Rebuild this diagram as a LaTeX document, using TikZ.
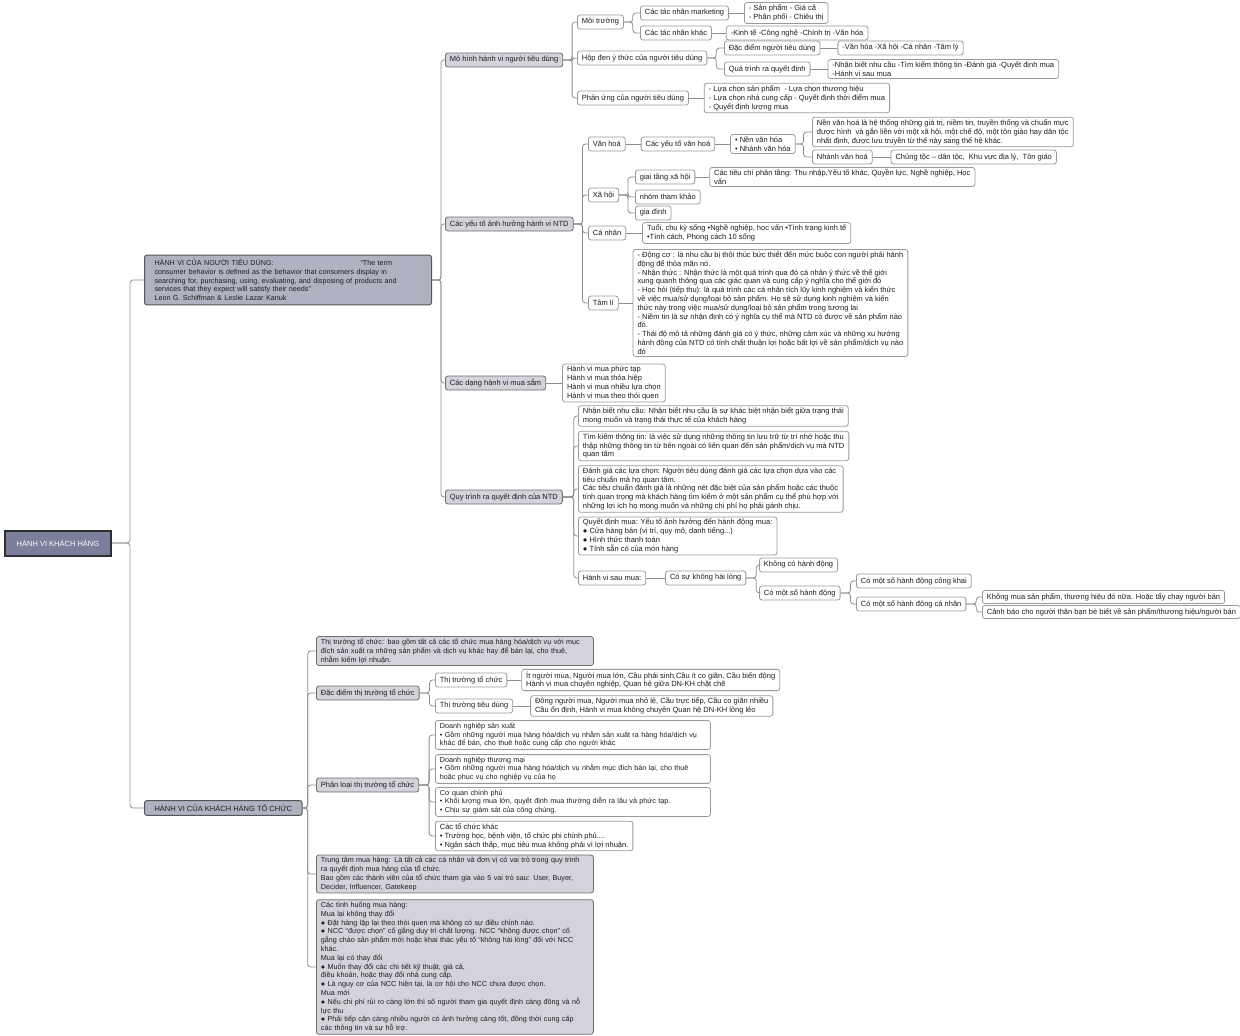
\documentclass[tikz,border=0pt]{standalone}
\usepackage{fontspec}
\setmainfont{Liberation Sans}
\usetikzlibrary{positioning}

\definecolor{linkgray}{HTML}{8E8E8E}
\definecolor{boxline}{HTML}{9A9A9A}
\definecolor{topicfill}{HTML}{D2D3DB}
\definecolor{topicline}{HTML}{6E6E6E}
\definecolor{mainfill}{HTML}{B0B2C2}
\definecolor{mainline}{HTML}{555555}
\definecolor{rootfill}{HTML}{7B7F9B}
\definecolor{rootline}{HTML}{2E2E2E}
\definecolor{ink}{HTML}{1E1E1E}

\begin{document}
\begin{tikzpicture}[
  x=1pt, y=-1pt,
  font=\fontsize{7.5pt}{8.8pt}\selectfont, text=ink,
  leaf/.style={draw=boxline, line width=0.8pt, rounded corners=2.5pt, fill=white,
    align=left, anchor=west, inner xsep=4.5pt, inner ysep=2.2pt, minimum height=14pt},
  topic/.style={leaf, fill=topicfill, draw=topicline},
  mainbox/.style={leaf, fill=mainfill, draw=mainline, line width=1pt, inner xsep=10pt, inner ysep=4pt},
  rootbox/.style={draw=rootline, line width=2pt, fill=rootfill, text=white, anchor=west,
    minimum width=106pt, minimum height=25pt},
  fixwidth/.style={text width=#1, font=\fontsize{7.2pt}{8.8pt}\selectfont},
  link/.style={draw=linkgray, line width=0.8pt, rounded corners=3pt},
  branch/.style={link, to path={(\tikztostart.east) -- ++(#1,0) |- (\tikztotarget.west)}},
  branch/.default=9
]
\useasboundingbox (0,0) rectangle (1240,1036);

% root and the two halves
\node[rootbox] (root) at (4,543) {HÀNH VI KHÁCH HÀNG};
\node[mainbox, fixwidth=267pt] (ntd) at (144,280)
  {\makebox[206pt][l]{HÀNH VI CỦA NGƯỜI TIÊU DÙNG:}“The term\\
   consumer behavior is defined as the behavior that consumers display in\\
   searching for, purchasing, using, evaluating, and disposing of products and\\
   services that they expect will satisfy their needs”\\
   Leon G. Schiffman \& Leslie Lazar Kanuk};
\node[mainbox] (tc) at (144,808) {HÀNH VI CỦA KHÁCH HÀNG TỔ CHỨC};
\draw[branch=18] (root) to (ntd);
\draw[branch=18] (root) to (tc);

% ---- nguoi tieu dung
\node[topic] (mh) at (445,60) {Mô hình hành vi người tiêu dùng};
\node[topic] (yt) at (445,224) {Các yếu tố ảnh hưởng hành vi NTD};
\node[topic] (dang) at (445,383) {Các dạng hành vi mua sắm};
\node[topic] (qt) at (445,497) {Quy trình ra quyết định của NTD};
\foreach \c in {mh,yt,dang,qt} \draw[branch] (ntd) to (\c);

% mo hinh
\node[leaf] (mt) at (577,22) {Môi trường};
\node[leaf] (hd) at (577,58) {Hộp đen ý thức của người tiêu dùng};
\node[leaf] (pu) at (577,98) {Phản ứng của người tiêu dùng};
\foreach \c in {mt,hd,pu} \draw[branch] (mh) to (\c);

\node[leaf] (tnmk) at (640,13) {Các tác nhân marketing};
\node[leaf] (tnk) at (640,33) {Các tác nhân khác};
\draw[branch] (mt) to (tnmk);
\draw[branch] (mt) to (tnk);
\node[leaf, right=15pt of tnmk] (spgc) {- Sản phẩm - Giá cả\\- Phân phối - Chiêu thị};
\node[leaf, right=14pt of tnk] (ktvh) {-Kinh tế -Công nghệ -Chính trị -Văn hóa};
\draw[link] (tnmk) -- (spgc);
\draw[link] (tnk) -- (ktvh);

\node[leaf] (dd) at (724,48) {Đặc điểm người tiêu dùng};
\node[leaf] (qtr) at (724,69) {Quá trình ra quyết định};
\draw[branch] (hd) to (dd);
\draw[branch] (hd) to (qtr);
\node[leaf, right=17pt of dd] (vhxh) {-Văn hóa -Xã hội -Cá nhân -Tâm lý};
\node[leaf, right=17pt of qtr] (nbnc)
  {-Nhận biết nhu cầu -Tìm kiếm thông tin -Đánh giá -Quyết định mua\\-Hành vi sau mua};
\draw[link] (dd) -- (vhxh);
\draw[link] (qtr) -- (nbnc);

\node[leaf, right=15pt of pu] (lc)
  {- Lựa chọn sản phẩm\ \ - Lựa chọn thương hiệu\\
   - Lựa chọn nhà cung cấp - Quyết định thời điểm mua\\
   - Quyết định lượng mua};
\draw[link] (pu) -- (lc);

% cac yeu to
\node[leaf] (vh) at (588,144) {Văn hoá};
\node[leaf] (xh) at (588,195) {Xã hội};
\node[leaf] (cn) at (588,233) {Cá nhân};
\node[leaf] (tl) at (588,303) {Tâm lí};
\foreach \c in {vh,xh,cn,tl} \draw[branch] (yt) to (\c);

\node[leaf, right=15pt of vh] (ytvh) {Các yếu tố văn hoá};
\node[leaf, right=15pt of ytvh] (nvh) {• Nền văn hóa\\• Nhánh văn hóa};
\draw[link] (vh) -- (ytvh);
\draw[link] (ytvh) -- (nvh);
\node[leaf] (nvhdef) at (812,132)
  {Nền văn hoá là hệ thống những giá trị, niềm tin, truyền thống và chuẩn mực\\
   được hình\ \ và gắn liền với một xã hội, một chế độ, một tôn giáo hay dân tộc\\
   nhất định, được lưu truyền từ thế này sang thế hệ khác.};
\node[leaf] (nhvh) at (812,157) {Nhánh văn hoá};
\draw[branch=8] (nvh) to (nvhdef);
\draw[branch=8] (nvh) to (nhvh);
\node[leaf, right=18pt of nhvh] (ctdt) {Chủng tộc – dân tộc,\ \ Khu vực địa lý,\ \ Tôn giáo};
\draw[link] (nhvh) -- (ctdt);

\node[leaf] (gtxh) at (635,177) {giai tầng xã hội};
\node[leaf] (ntk) at (635,197) {nhóm tham khảo};
\node[leaf] (gd) at (635,213) {gia đình};
\foreach \c in {gtxh,ntk,gd} \draw[branch] (xh) to (\c);
\node[leaf, right=14pt of gtxh] (tcpt)
  {Các tiêu chí phân tầng: Thu nhập,Yếu tố khác, Quyền lực, Nghề nghiệp, Học\\vấn};
\draw[link] (gtxh) -- (tcpt);

\node[leaf, right=16pt of cn] (tuoi)
  {Tuổi, chu kỳ sống •Nghề nghiệp, học vấn •Tình trạng kinh tế\\•Tính cách, Phong cách 10 sống};
\draw[link] (cn) -- (tuoi);

\node[leaf, right=14pt of tl] (tldef)
  {- Động cơ : là nhu cầu bị thôi thúc bức thiết đến mức buộc con người phải hành\\
   động để thỏa mãn nó.\\
   - Nhận thức : Nhận thức là một quá trình qua đó cá nhân ý thức về thế giới\\
   xung quanh thông qua các giác quan và cung cấp ý nghĩa cho thế giới đó\\
   - Học hỏi (tiếp thu): là quá trình các cá nhân tích lũy kinh nghiệm và kiến thức\\
   về việc mua/sử dụng/loại bỏ sản phẩm. Họ sẽ sử dụng kinh nghiệm và kiến\\
   thức này trong việc mua/sử dụng/loại bỏ sản phẩm trong tương lai\\
   - Niềm tin là sự nhận định có ý nghĩa cụ thể mà NTD có được về sản phẩm nào\\
   đó.\\
   - Thái độ mô tả những đánh giá có ý thức, những cảm xúc và những xu hướng\\
   hành động của NTD có tính chất thuận lợi hoặc bất lợi về sản phẩm/dịch vụ nào\\
   đó};
\draw[link] (tl) -- (tldef);

% cac dang hanh vi
\node[leaf, right=16pt of dang] (dangs)
  {Hành vi mua phức tạp\\Hành vi mua thỏa hiệp\\Hành vi mua nhiều lựa chọn\\Hành vi mua theo thói quen};
\draw[link] (dang) -- (dangs);

% quy trinh
\node[leaf] (nb) at (578,416)
  {Nhận biết nhu cầu: Nhận biết nhu cầu là sự khác biệt nhận biết giữa trạng thái\\
   mong muốn và trạng thái thực tế của khách hàng};
\node[leaf] (tk) at (578,446)
  {Tìm kiếm thông tin: là việc sử dụng những thông tin lưu trữ từ trí nhớ hoặc thu\\
   thập những thông tin từ bên ngoài có liên quan đến sản phẩm/dịch vụ mà NTD\\
   quan tâm};
\node[leaf] (dg) at (578,489)
  {Đánh giá các lựa chọn: Người tiêu dùng đánh giá các lựa chọn dựa vào các\\
   tiêu chuẩn mà họ quan tâm.\\
   Các tiêu chuẩn đánh giá là những nét đặc biệt của sản phẩm hoặc các thuộc\\
   tính quan trọng mà khách hàng tìm kiếm ở một sản phẩm cụ thể phù hợp với\\
   những lợi ích họ mong muốn và những chi phí họ phải gánh chịu.};
\node[leaf] (qdm) at (578,536)
  {Quyết định mua: Yếu tố ảnh hưởng đến hành động mua:\\
   ● Cửa hàng bán (vị trí, quy mô, danh tiếng...)\\
   ● Hình thức thanh toán\\
   ● Tính sẵn có của món hàng};
\node[leaf] (hvsm) at (578,578) {Hành vi sau mua:};
\foreach \c in {nb,tk,dg,qdm,hvsm} \draw[branch=11] (qt) to (\c);

\node[leaf, right=19pt of hvsm] (ksl) {Có sự không hài lòng};
\draw[link] (hvsm) -- (ksl);
\node[leaf] (kcd) at (759,565) {Không có hành động};
\node[leaf] (cms) at (759,593) {Có một số hành động};
\draw[branch=10] (ksl) to (kcd);
\draw[branch=10] (ksl) to (cms);
\node[leaf] (ck) at (856,581) {Có một số hành động công khai};
\node[leaf] (cncn) at (856,604) {Có một số hành động cá nhân};
\draw[branch=10] (cms) to (ck);
\draw[branch=10] (cms) to (cncn);
\node[leaf, minimum height=13pt] (kmsp) at (982,597)
  {Không mua sản phẩm, thương hiệu đó nữa. Hoặc tẩy chay người bán};
\node[leaf, minimum height=13pt] (cb) at (982,612)
  {Cảnh báo cho người thân bạn bè biết về sản phẩm/thương hiệu/người bán};
\draw[branch=10] (cncn) to (kmsp);
\draw[branch=10] (cncn) to (cb);

% ---- khach hang to chuc
\node[topic, fixwidth=268pt] (ttc) at (316,651)
  {Thị trường tổ chức: bao gồm tất cả các tổ chức mua hàng hóa/dịch vụ với mục\\
   đích sản xuất ra những sản phẩm và dịch vụ khác hay để bán lại, cho thuê,\\
   nhằm kiếm lợi nhuận.};
\node[topic] (ddtt) at (316,693) {Đặc điểm thị trường tổ chức};
\node[topic] (pltt) at (316,785) {Phân loại thị trường tổ chức};
\node[topic, fixwidth=268pt] (ttmh) at (316,874)
  {Trung tâm mua hàng: Là tất cả các cá nhân và đơn vị có vai trò trong quy trình\\
   ra quyết định mua hàng của tổ chức.\\
   Bao gồm các thành viên của tổ chức tham gia vào 5 vai trò sau: User, Buyer,\\
   Decider, Influencer, Gatekeep};
\node[topic, fixwidth=268pt] (tinhhuong) at (316,967)
  {Các tình huống mua hàng:\\
   Mua lại không thay đổi\\
   ● Đặt hàng lặp lại theo thói quen mà không có sự điều chỉnh nào.\\
   ● NCC “được chọn” cố gắng duy trì chất lượng. NCC “không được chọn” cố\\
   gắng chào sản phẩm mới hoặc khai thác yếu tố “không hài lòng” đối với NCC\\
   khác.\\
   Mua lại có thay đổi\\
   ● Muốn thay đổi các chi tiết kỹ thuật, giá cả,\\
   điều khoản, hoặc thay đổi nhà cung cấp.\\
   ● Là nguy cơ của NCC hiện tại, là cơ hội cho NCC chưa được chọn.\\
   Mua mới\\
   ● Nếu chi phí rủi ro càng lớn thì số người tham gia quyết định càng đông và nỗ\\
   lực thu\\
   ● Phải tiếp cận càng nhiều người có ảnh hưởng càng tốt, đồng thời cung cấp\\
   các thông tin và sự hỗ trợ.};
\foreach \c in {ttc,ddtt,pltt,ttmh,tinhhuong} \draw[branch=5] (tc) to (\c);

\node[leaf] (tttc) at (435,680) {Thị trường tổ chức};
\node[leaf] (tttd) at (435,706) {Thị trường tiêu dùng};
\draw[branch=10] (ddtt) to (tttc);
\draw[branch=10] (ddtt) to (tttd);
\node[leaf, right=14pt of tttc] (itnm)
  {Ít người mua, Người mua lớn, Cầu phái sinh,Cầu ít co giãn, Cầu biến động\\
   Hành vi mua chuyên nghiệp, Quan hệ giữa DN-KH chặt chẽ};
\node[leaf, right=17pt of tttd] (dnm)
  {Đông người mua, Người mua nhỏ lẻ, Cầu trực tiếp, Cầu co giãn nhiều\\
   Cầu ổn định, Hành vi mua không chuyên Quan hệ DN-KH lỏng lẻo};
\draw[link] (tttc) -- (itnm);
\draw[link] (tttd) -- (dnm);

\node[leaf, fixwidth=266pt] (dnsx) at (435,735)
  {Doanh nghiệp sản xuất\\
   • Gồm những người mua hàng hóa/dịch vụ nhằm sản xuất ra hàng hóa/dịch vụ\\
   khác để bán, cho thuê hoặc cung cấp cho người khác};
\node[leaf, fixwidth=266pt] (dntm) at (435,769)
  {Doanh nghiệp thương mại\\
   • Gồm những người mua hàng hóa/dịch vụ nhằm mục đích bán lại, cho thuê\\
   hoặc phục vụ cho nghiệp vụ của họ};
\node[leaf, fixwidth=266pt] (cqcp) at (435,802)
  {Cơ quan chính phủ\\
   • Khối lượng mua lớn, quyết định mua thường diễn ra lâu và phức tạp.\\
   • Chịu sự giám sát của công chúng.};
\node[leaf] (tck) at (435,836)
  {Các tổ chức khác\\
   • Trường học, bệnh viện, tổ chức phi chính phủ....\\
   • Ngân sách thấp, mục tiêu mua không phải vì lợi nhuận.};
\foreach \c in {dnsx,dntm,cqcp,tck} \draw[branch=10] (pltt) to (\c);

\end{tikzpicture}
\end{document}
